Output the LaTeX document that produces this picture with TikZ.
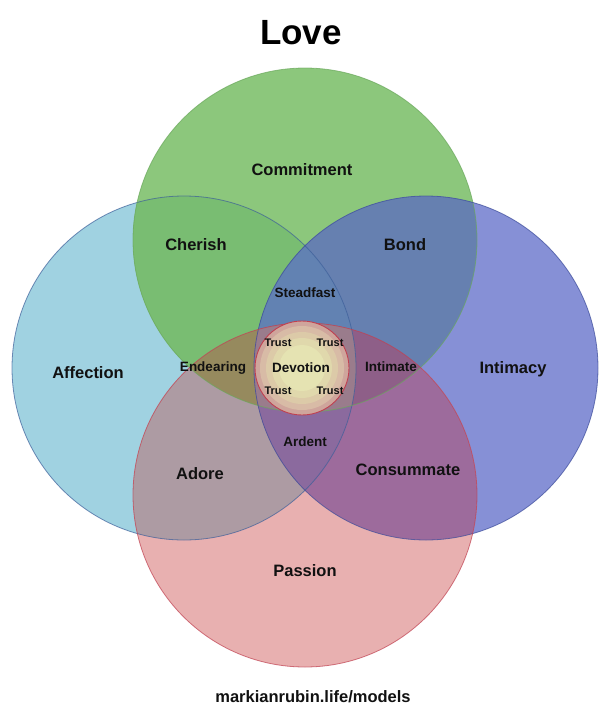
\documentclass[tikz,border=0pt]{standalone}
\usepackage{fontspec}
\setmainfont{Liberation Sans}
\definecolor{cL}{HTML}{A0D2E1}
\definecolor{cG}{HTML}{8CC77C}
\definecolor{cR}{HTML}{8690D6}
\definecolor{cP}{HTML}{E8B0B0}
\definecolor{cLG}{HTML}{79BD72}
\definecolor{cGR}{HTML}{6680B0}
\definecolor{cLP}{HTML}{AD9BA3}
\definecolor{cRP}{HTML}{9D6B9C}
\definecolor{cLGR}{HTML}{6282B2}
\definecolor{cLGP}{HTML}{968A5E}
\definecolor{cGRP}{HTML}{8E5F88}
\definecolor{cLRP}{HTML}{8B6A9E}
\definecolor{cQ}{HTML}{9A7C8C}
\definecolor{lnL}{HTML}{3D5F9A}
\definecolor{lnG}{HTML}{6AA85C}
\definecolor{lnR}{HTML}{3B4B9A}
\definecolor{lnP}{HTML}{C04050}
\definecolor{rgA}{HTML}{CFA59C}
\definecolor{rgB}{HTML}{D8BBA6}
\definecolor{rgC}{HTML}{DCCAA8}
\definecolor{rgD}{HTML}{E0D8AC}
\definecolor{rgE}{HTML}{E5E3B2}
\definecolor{txt}{HTML}{111111}
\def\cirL{(184,368) circle (172pt)}
\def\cirG{(305,240) circle (172pt)}
\def\cirR{(426,368) circle (172pt)}
\def\cirP{(305,495) circle (172pt)}
\begin{document}
\begin{tikzpicture}[x=1pt,y=-1pt,
  ttl/.style={font=\fontsize{35}{40}\selectfont\bfseries, text=black, inner sep=0pt},
  lbl/.style={font=\fontsize{16.5}{18}\selectfont\bfseries, text=txt, inner sep=0pt},
  slbl/.style={font=\fontsize{13.5}{15}\selectfont\bfseries, text=txt, inner sep=0pt},
  tlbl/.style={font=\fontsize{11}{12}\selectfont\bfseries, text=txt, inner sep=0pt},
  outl/.style={line width=0.8pt, draw opacity=0.7}]
\useasboundingbox (0,0) rectangle (609,726);
\fill[white] (0,0) rectangle (609,726);
% single circles
\fill[cL] \cirL;
\fill[cG] \cirG;
\fill[cR] \cirR;
\fill[cP] \cirP;
% pairs
\begin{scope}\clip \cirL; \fill[cLG] \cirG; \end{scope}
\begin{scope}\clip \cirG; \fill[cGR] \cirR; \end{scope}
\begin{scope}\clip \cirL; \fill[cLP] \cirP; \end{scope}
\begin{scope}\clip \cirR; \fill[cRP] \cirP; \end{scope}
% triples
\begin{scope}\clip \cirL; \clip \cirG; \fill[cLGR] \cirR; \end{scope}
\begin{scope}\clip \cirL; \clip \cirG; \fill[cLGP] \cirP; \end{scope}
\begin{scope}\clip \cirG; \clip \cirR; \fill[cGRP] \cirP; \end{scope}
\begin{scope}\clip \cirL; \clip \cirR; \fill[cLRP] \cirP; \end{scope}
% quadruple
\begin{scope}\clip \cirL; \clip \cirG; \clip \cirR; \fill[cQ] \cirP; \end{scope}
% outlines
\draw[outl, lnL] \cirL;
\draw[outl, lnG] \cirG;
\draw[outl, lnR] \cirR;
\draw[outl, lnP] \cirP;
% devotion rings
\fill[rgA] (302,368) circle (47pt);
\fill[rgB] (302,368) circle (42pt);
\fill[rgC] (302,368) circle (36pt);
\fill[rgD] (302,368) circle (30pt);
\fill[rgE] (302,368) circle (23pt);
\draw[lnP, line width=0.9pt] (302,368) circle (47pt);
% labels
\node[ttl] (love) at (301,33) {Love};
\node[lbl] (commitment) at (302,170) {Commitment};
\node[lbl] (cherish) at (196,245) {Cherish};
\node[lbl] (bond) at (405,245) {Bond};
\node[slbl] (steadfast) at (305,293) {Steadfast};
\node[lbl] (affection) at (88,373) {Affection};
\node[slbl] (endearing) at (213,368) {Endearing};
\node[slbl] (devotion) at (301,368) {Devotion};
\node[tlbl] (t1) at (278,343) {Trust};
\node[tlbl] (t2) at (330,343) {Trust};
\node[tlbl] (t3) at (278,391) {Trust};
\node[tlbl] (t4) at (330,391) {Trust};
\node[slbl] (intimate) at (391,367) {Intimate};
\node[lbl] (intimacy) at (513,369) {Intimacy};
\node[slbl] (ardent) at (305,442) {Ardent};
\node[lbl] (adore) at (200,474) {Adore};
\node[lbl] (consummate) at (408,470) {Consummate};
\node[lbl] (passion) at (305,571) {Passion};
\node[lbl] (site) at (313,697) {markianrubin.life/models};
\end{tikzpicture}
\end{document}
